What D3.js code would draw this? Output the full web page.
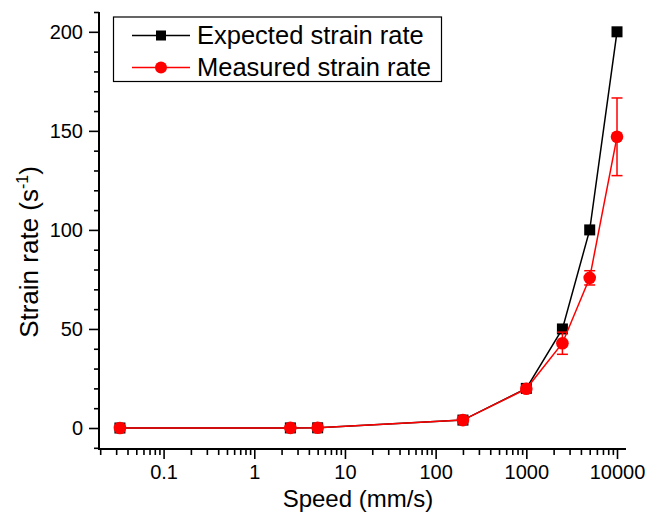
<!DOCTYPE html>
<html>
 <head>
   <meta charset="utf-8" />
   <title>Strain rate vs speed</title>
   <script src="https://cdn.jsdelivr.net/npm/d3@7"></script>
   <style>
     body { margin: 0; background: #fff; }
     text { font-family: "Liberation Sans", Arial, sans-serif; }
   </style>
 </head>

 <body>
   <script>
     // data
     var speeds        = [0.033, 2.5, 5, 200, 1000, 2500, 5000, 10000];
     var expectedRate  = [0.00067, 0.05, 0.1, 4, 20, 50, 100, 200];
     var measuredRate  = [0.0, 0.05, 0.1, 4.0, 19.8, 42.8, 75.8, 147.0];
     var measuredError = [0, 0, 0, 0.4, 0.8, 5.6, 3.6, 19.6];

     var xMajorTicks = [0.1, 1, 10, 100, 1000, 10000];
     var xTickLabels = ["0.1", "1", "10", "100", "1000", "10000"];
     var yMajorTicks = [0, 50, 100, 150, 200];
     var yTickLabels = ["0", "50", "100", "150", "200"];

     var seriesNames = ["Expected strain rate", "Measured strain rate"];

     var width = 647, height = 514;
     // note: "top" is reserved on window, so use plot* names
     var plotLeft = 99, plotRight = 625, plotTop = 12, plotBottom = 449;

     var svg = d3.select("body")
                 .append("svg")
                 .attr("width",  width)
                 .attr("height", height);

     var x = d3.scaleLog()
               .domain([0.0194, 12250])
               .range([plotLeft, plotRight]);

     var y = d3.scaleLinear()
               .domain([-10.6, 210])
               .range([plotBottom, plotTop]);

     // minor ticks: 2..9 of each decade, every 10 on y
     var xMinorTicks = [];
     [0.01, 0.1, 1, 10, 100, 1000, 10000].forEach(function(d) {
       for (var k = 2; k <= 9; k++) {
         var v = d * k;
         if (v >= x.domain()[0] && v <= x.domain()[1]) xMinorTicks.push(v);
       }
     });
     var yMinorTicks = d3.range(-10, 211, 10).filter(function(v) {
       return v % 50 != 0;
     });

     function styleAxis(g) {
       g.select(".domain").remove();
       g.selectAll("line").attr("stroke", "#000").attr("stroke-width", 1.6);
       g.selectAll("text")
         .attr("fill", "#000")
         .style("font-size", "20px");
     }

     // minor ticks
     svg.append("g")
        .attr("transform", "translate(0," + plotBottom + ")")
        .call(d3.axisBottom(x).tickValues(xMinorTicks).tickSize(6).tickFormat(""))
        .call(styleAxis);

     svg.append("g")
        .attr("transform", "translate(" + plotLeft + ",0)")
        .call(d3.axisLeft(y).tickValues(yMinorTicks).tickSize(5).tickFormat(""))
        .call(styleAxis);

     // major ticks
     svg.append("g")
        .attr("transform", "translate(0," + plotBottom + ")")
        .call(d3.axisBottom(x)
                .tickValues(xMajorTicks)
                .tickSize(10)
                .tickPadding(6)
                .tickFormat(function(d, i) { return xTickLabels[i]; }))
        .call(styleAxis);

     svg.append("g")
        .attr("transform", "translate(" + plotLeft + ",0)")
        .call(d3.axisLeft(y)
                .tickValues(yMajorTicks)
                .tickSize(10)
                .tickPadding(6)
                .tickFormat(function(d, i) { return yTickLabels[i]; }))
        .call(styleAxis);

     // axis lines
     svg.append("line")
        .attr("x1", plotLeft).attr("x2", plotRight + 1)
        .attr("y1", plotBottom).attr("y2", plotBottom)
        .attr("stroke", "#000").attr("stroke-width", 2);

     svg.append("line")
        .attr("x1", plotLeft).attr("x2", plotLeft)
        .attr("y1", plotTop).attr("y2", plotBottom + 1)
        .attr("stroke", "#000").attr("stroke-width", 2);

     // axis titles
     svg.append("text")
        .attr("x", 358)
        .attr("y", 507)
        .attr("text-anchor", "middle")
        .style("font-size", "24px")
        .text("Speed (mm/s)");

     var yTitle = svg.append("text")
        .attr("transform", "translate(38,252) rotate(-90)")
        .attr("text-anchor", "middle")
        .style("font-size", "26px");
     yTitle.append("tspan").text("Strain rate (s");
     yTitle.append("tspan").attr("dy", -10).style("font-size", "16px").text("-1");
     yTitle.append("tspan").attr("dy", 10).text(")");

     var expected = speeds.map(function(s, i) { return [s, expectedRate[i]]; });
     var measured = speeds.map(function(s, i) {
       return [s, measuredRate[i], measuredError[i]];
     });

     var line = d3.line()
                  .x(function(d) { return x(d[0]); })
                  .y(function(d) { return y(d[1]); });

     // expected series (black squares)
     svg.append("path")
        .datum(expected)
        .attr("d", line)
        .attr("fill", "none")
        .attr("stroke", "#000")
        .attr("stroke-width", 1.5);

     svg.selectAll("rect.expected")
        .data(expected)
        .enter().append("rect")
        .attr("class", "expected")
        .attr("x", function(d) { return x(d[0]) - 5.5; })
        .attr("y", function(d) { return y(d[1]) - 5.5; })
        .attr("width", 11)
        .attr("height", 11)
        .attr("fill", "#000");

     // measured series (red circles with error bars)
     svg.append("path")
        .datum(measured)
        .attr("d", line)
        .attr("fill", "none")
        .attr("stroke", "#ff0000")
        .attr("stroke-width", 1.5);

     var err = svg.selectAll("g.err")
        .data(measured.filter(function(d) { return d[2] > 0; }))
        .enter().append("g")
        .attr("class", "err")
        .attr("stroke", "#ff0000")
        .attr("stroke-width", 1.5);

     err.append("line")
        .attr("x1", function(d) { return x(d[0]); })
        .attr("x2", function(d) { return x(d[0]); })
        .attr("y1", function(d) { return y(d[1] - d[2]); })
        .attr("y2", function(d) { return y(d[1] + d[2]); });

     [-1, 1].forEach(function(sgn) {
       err.append("line")
          .attr("x1", function(d) { return x(d[0]) - 5.5; })
          .attr("x2", function(d) { return x(d[0]) + 5.5; })
          .attr("y1", function(d) { return y(d[1] + sgn * d[2]); })
          .attr("y2", function(d) { return y(d[1] + sgn * d[2]); });
     });

     svg.selectAll("circle.measured")
        .data(measured)
        .enter().append("circle")
        .attr("class", "measured")
        .attr("cx", function(d) { return x(d[0]); })
        .attr("cy", function(d) { return y(d[1]); })
        .attr("r", 6.3)
        .attr("fill", "#ff0000");

     // legend
     var legend = svg.append("g");

     legend.append("rect")
           .attr("x", 113.5).attr("y", 17)
           .attr("width", 328).attr("height", 64.5)
           .attr("fill", "#fff")
           .attr("stroke", "#000")
           .attr("stroke-width", 1.2);

     var rowY = [35.5, 67.5];
     var colors = ["#000", "#ff0000"];

     seriesNames.forEach(function(name, i) {
       legend.append("line")
             .attr("x1", 132).attr("x2", 190)
             .attr("y1", rowY[i]).attr("y2", rowY[i])
             .attr("stroke", colors[i])
             .attr("stroke-width", 1.5);
       if (i == 0) {
         legend.append("rect")
               .attr("x", 161 - 5).attr("y", rowY[i] - 5)
               .attr("width", 10).attr("height", 10)
               .attr("fill", "#000");
       } else {
         legend.append("circle")
               .attr("cx", 161).attr("cy", rowY[i])
               .attr("r", 6)
               .attr("fill", "#ff0000");
       }
       legend.append("text")
             .attr("x", 197)
             .attr("y", rowY[i] + 8.8)
             .style("font-size", "25.5px")
             .text(name);
     });
  </script>
 </body>
</html>
